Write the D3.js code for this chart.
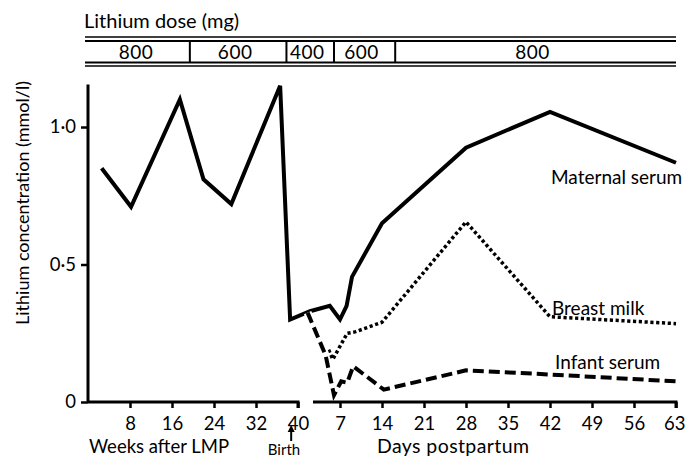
<!DOCTYPE html>
<html>
<head>
<meta charset="utf-8">
<script src="https://cdn.jsdelivr.net/npm/d3@7"></script>
<style>
  body { margin: 0; background: #fff; }
  svg text { font-family: Lato, "Noto Sans", sans-serif; fill: #000; }
</style>
</head>
<body>
<div id="chart"></div>
<script>
// Lithium dose band: labels and break points (phase, time)
const doseLabels = [800, 600, 400, 600, 800];
const doseBreaks = [['week', 0], ['week', 19.4], ['week', 37.8], ['day', 6], ['day', 16.2], ['day', 63]];

// Maternal serum: pregnancy (weeks after LMP) then postpartum (days)
const maternalWeeks = [2.6, 8.2, 17.5, 22, 27.3, 36.6, 38.5];
const maternalPreg = [0.85, 0.71, 1.10, 0.81, 0.72, 1.15, 0.30];
const maternalDays = [2, 5.3, 7, 8.1, 9, 14, 28, 42, 63];
const maternalPost = [0.33, 0.35, 0.30, 0.35, 0.455, 0.65, 0.925, 1.055, 0.87];

// Breast milk (days postpartum)
const milkDays = [5.1, 5.8, 8.2, 9.5, 14, 28, 42, 63];
const milkValues = [0.19, 0.155, 0.25, 0.255, 0.29, 0.655, 0.31, 0.285];

// Infant serum (days postpartum)
const infantDays = [1.6, 4.6, 6, 7.2, 8.2, 9.2, 14.3, 28, 42, 63];
const infantValues = [0.325, 0.17, 0.025, 0.075, 0.07, 0.13, 0.045, 0.115, 0.10, 0.075];

const weekTicks = [8, 16, 24, 32, 40];
const dayTicks = [7, 14, 21, 28, 35, 42, 49, 56, 63];
const yTicks = [0, 0.5, 1.0];

const width = 686, height = 460;

const svg = d3.select('#chart').append('svg')
    .attr('width', width)
    .attr('height', height);

// scales: weeks for pregnancy, days for postpartum, sharing week 40 = day 0
const weekX = d3.scaleLinear().domain([0, 40]).range([88, 298]);
const dayX = d3.scaleLinear().domain([0, 63]).range([298, 676]);
const y = d3.scaleLinear().domain([0, 1.155]).range([402, 84.4]);

const xPos = ([phase, t]) => phase === 'week' ? weekX(t) : dayX(t);

// --- dose band
const band = svg.append('g').attr('class', 'dose');
const bandLeft = 85, bandRight = dayX(63);
[37, 41, 62.5, 66].forEach((yy, i) => {
    band.append('line')
        .attr('x1', bandLeft).attr('x2', bandRight)
        .attr('y1', yy).attr('y2', yy)
        .attr('stroke', '#000')
        .attr('stroke-width', (i === 1 || i === 2) ? 2 : 1.5);
});
band.selectAll('.divider')
    .data(doseBreaks.slice(1, -1))
    .join('line')
    .attr('class', 'divider')
    .attr('x1', xPos).attr('x2', xPos)
    .attr('y1', 41).attr('y2', 62.5)
    .attr('stroke', '#000')
    .attr('stroke-width', 2);
band.selectAll('.dose-label')
    .data(doseLabels)
    .join('text')
    .attr('class', 'dose-label')
    .attr('text-anchor', 'middle')
    .attr('x', (d, i) => (xPos(doseBreaks[i]) + xPos(doseBreaks[i + 1])) / 2 - 3)
    .attr('y', 59)
    .style('font-size', '19px')
    .style('letter-spacing', '0.5px')
    .text(d => d);
svg.append('text')
    .attr('x', 84).attr('y', 28)
    .style('font-size', '20px')
    .text('Lithium dose (mg)');

// --- axes
const yAxis = d3.axisLeft(y).tickValues(yTicks).tickSize(7).tickPadding(5)
    .tickFormat(d => d === 0 ? '0' : d3.format('.1f')(d).replace('.', '·'));
const gy = svg.append('g')
    .attr('transform', 'translate(88,0)')
    .call(yAxis);

const weekAxis = d3.axisBottom(weekX).tickValues(weekTicks).tickSize(6).tickSizeOuter(0).tickPadding(9);
const gw = svg.append('g')
    .attr('transform', `translate(0,${y(0)})`)
    .call(weekAxis);

const dayAxisScale = d3.scaleLinear().domain([2.5, 63]).range([dayX(2.5), dayX(63)]);
const dayAxis = d3.axisBottom(dayAxisScale).tickValues(dayTicks).tickSize(6).tickSizeOuter(6).tickPadding(9);
const gd = svg.append('g')
    .attr('transform', `translate(0,${y(0)})`)
    .call(dayAxis);

[gy, gw, gd].forEach(g => {
    g.select('.domain').attr('stroke-width', 3);
    g.selectAll('.tick line').attr('stroke-width', 2.5);
    g.selectAll('.tick text').style('font-size', '18.5px').attr('fill', '#000');
});
gy.select('.domain').attr('d', `M0,${y(0)}V${y.range()[1]}`);
gw.select('.domain').attr('d', `M${weekX(0)},0H${weekX(40)}V6`);
gd.select('.domain').attr('d', `M${dayX(2.5)},0H${dayX(63)}V6`);
// keep the last day label inside the frame
gd.selectAll('.tick text').filter(d => d === 63).attr('text-anchor', 'end').attr('dx', '9');

// axis titles
svg.append('text')
    .attr('transform', 'translate(29,203) rotate(-90)')
    .attr('text-anchor', 'middle')
    .style('font-size', '18px')
    .text('Lithium concentration (mmol/l)');
svg.append('text')
    .attr('x', 89).attr('y', 453)
    .style('font-size', '18.5px')
    .text('Weeks after LMP');
svg.append('text')
    .attr('x', 377).attr('y', 453)
    .style('font-size', '19.5px')
    .style('letter-spacing', '0.4px')
    .text('Days postpartum');
svg.append('text')
    .attr('x', 284).attr('y', 455)
    .attr('text-anchor', 'middle')
    .style('font-size', '15px')
    .text('Birth');
// birth arrow
svg.append('line')
    .attr('x1', weekX(38.7)).attr('x2', weekX(38.7))
    .attr('y1', 430).attr('y2', 441)
    .attr('stroke', '#000').attr('stroke-width', 2);
svg.append('path')
    .attr('d', `M${weekX(38.7) - 3.5},432L${weekX(38.7)},425L${weekX(38.7) + 3.5},432Z`)
    .attr('fill', '#000');

// --- series
const line = d3.line().x(d => xPos(d)).y(d => y(d[2]));

const maternal = maternalWeeks.map((t, i) => ['week', t, maternalPreg[i]])
    .concat(maternalDays.map((t, i) => ['day', t, maternalPost[i]]));
const milk = milkDays.map((t, i) => ['day', t, milkValues[i]]);
const infant = infantDays.map((t, i) => ['day', t, infantValues[i]]);

svg.append('path')
    .datum(maternal)
    .attr('d', line)
    .attr('fill', 'none')
    .attr('stroke', '#000')
    .attr('stroke-width', 4)
    .attr('stroke-linejoin', 'miter');

svg.append('path')
    .datum(milk)
    .attr('d', line)
    .attr('fill', 'none')
    .attr('stroke', '#000')
    .attr('stroke-width', 3.5)
    .attr('stroke-dasharray', '3.2,2.6');

// white casing first so infant line cuts the maternal line where they cross
svg.append('path')
    .datum(infant.slice(0, 2))
    .attr('d', line)
    .attr('fill', 'none')
    .attr('stroke', '#fff')
    .attr('stroke-width', 8);
svg.append('path')
    .datum(infant)
    .attr('d', line)
    .attr('fill', 'none')
    .attr('stroke', '#000')
    .attr('stroke-width', 4)
    .attr('stroke-dasharray', '11,5');

// series labels
const seriesLabels = [
    ['Maternal serum', 551, 184],
    ['Breast milk', 552, 315],
    ['Infant serum', 555, 369]
];
svg.selectAll('.series-label')
    .data(seriesLabels)
    .join('text')
    .attr('class', 'series-label')
    .attr('x', d => d[1])
    .attr('y', d => d[2])
    .style('font-size', '19px')
    .text(d => d[0]);
</script>
</body>
</html>
